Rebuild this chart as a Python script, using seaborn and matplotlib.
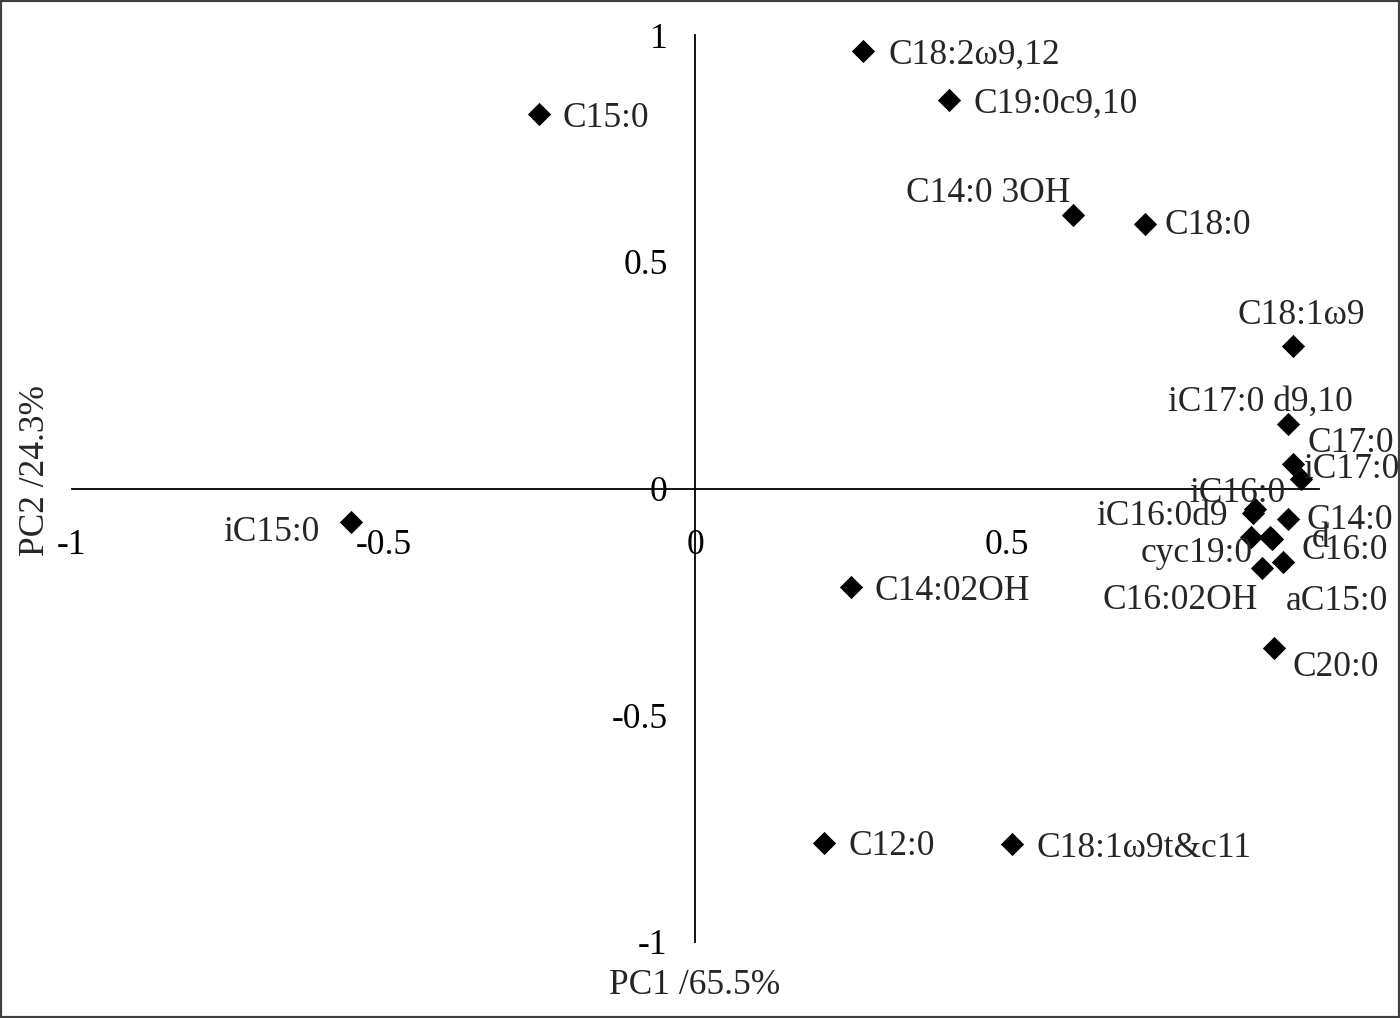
import matplotlib
matplotlib.use('Agg')
import matplotlib.pyplot as plt
from matplotlib.patches import Rectangle
import pandas as pd
import seaborn as sns

# ── Data (PCA loadings) ───────────────────────────────────────────────────────
names = ['C18:2ω9,12', 'C19:0c9,10', 'C15:0', 'C14:0 3OH', 'C18:0', 'C18:1ω9',
         'iC17:0 d9,10', 'C17:0', 'iC17:0', 'iC16:0', 'iC16:0d9', 'C14:0',
         'cyc19:0', 'd', 'C16:0', 'C16:02OH', 'aC15:0', 'iC15:0', 'C14:02OH',
         'C20:0', 'C12:0', 'C18:1ω9t&c11']
pc1 = [0.269, 0.407, -0.251, 0.605, 0.721, 0.958,
       0.950, 0.958, 0.971, 0.897, 0.894, 0.950,
       0.891, 0.925, 0.921, 0.909, 0.942, -0.553, 0.249,
       0.928, 0.206, 0.508]
pc2 = [0.964, 0.856, 0.825, 0.604, 0.584, 0.315,
       0.143, 0.053, 0.022, -0.046, -0.053, -0.068,
       -0.106, -0.112, -0.108, -0.176, -0.163, -0.073, -0.218,
       -0.351, -0.781, -0.785]

ticks = [-1, -0.5, 0, 0.5, 1]
xtick_labels = ['-1', '-0.5', '0', '0.5', '']
ytick_labels = ['-1', '-0.5', '0', '0.5', '1']

# label placement: (dx px, dy px, ha)
label_pos = {
    'C18:2ω9,12': (25, 0, 'left'), 'C19:0c9,10': (24, 0, 'left'),
    'C15:0': (23, 0, 'left'), 'C14:0 3OH': (-2, 25, 'right'),
    'C18:0': (19, 2, 'left'), 'C18:1ω9': (8, 34, 'center'),
    'iC17:0 d9,10': (-27, 25, 'center'), 'C17:0': (15, 25, 'left'),
    'iC17:0': (2, 13, 'left'), 'iC16:0': (-17, 20, 'center'),
    'iC16:0d9': (-25, 0, 'right'), 'C14:0': (19, 3, 'left'),
    'cyc19:0': (2, -13, 'right'), 'd': (40, 5, 'left'),
    'C16:0': (32, -9, 'left'), 'C16:02OH': (-5, -28, 'right'),
    'aC15:0': (54, -35, 'center'), 'iC15:0': (-31, -7, 'right'),
    'C14:02OH': (24, 0, 'left'), 'C20:0': (18, -16, 'left'),
    'C12:0': (25, 0, 'left'), 'C18:1ω9t&c11': (24, 0, 'left'),
}

df = pd.DataFrame({'name': names, 'pc1': pc1, 'pc2': pc2})

# ── Style ─────────────────────────────────────────────────────────────────────
sns.set_style('white')
plt.rcParams['font.family'] = ['Liberation Serif', 'DejaVu Serif']
FS = 25.5

fig = plt.figure(figsize=(14, 10.18), dpi=100)
ax = fig.add_axes([72 / 1400, 76 / 1018, 1247 / 1400, 907 / 1018])

sns.scatterplot(data=df, x='pc1', y='pc2', marker='D', s=140, color='black',
                edgecolor='black', linewidth=0, ax=ax, legend=False, zorder=3)

for _, row in df.iterrows():
    dx, dy, ha = label_pos[row['name']]
    ax.annotate(row['name'], (row['pc1'], row['pc2']), xytext=(dx, dy),
                textcoords='offset pixels', ha=ha, va='center_baseline',
                fontsize=FS, zorder=4)

ax.set_xlim(-1, 1)
ax.set_ylim(-1, 1)
ax.set_xlabel('')
ax.set_ylabel('')
for s in ['top', 'right']:
    ax.spines[s].set_visible(False)
for s in ['left', 'bottom']:
    ax.spines[s].set_position(('data', 0))
    ax.spines[s].set_color('black')
    ax.spines[s].set_linewidth(1.3)

ax.set_xticks(ticks)
ax.set_xticklabels(xtick_labels)
ax.set_yticks(ticks)
ax.set_yticklabels(ytick_labels)
ax.tick_params(axis='both', direction='in', length=7, width=1.3, labelsize=FS,
               colors='black')
ax.tick_params(axis='x', pad=29)
ax.tick_params(axis='y', pad=20)
ax.grid(False)
ax.patch.set_alpha(0)

fig.text(695 / 1400, 1 - 985 / 1018, 'PC1 /65.5%', ha='center', va='center',
         fontsize=FS)
fig.text(35 / 1400, 1 - 470 / 1018, 'PC2 /24.3%', ha='center', va='center',
         rotation=90, fontsize=FS)

fig.patches.append(Rectangle((0, 0), 1, 1, transform=fig.transFigure,
                             fill=False, edgecolor='#404040', linewidth=3))

fig.savefig('out.png', dpi=100)
